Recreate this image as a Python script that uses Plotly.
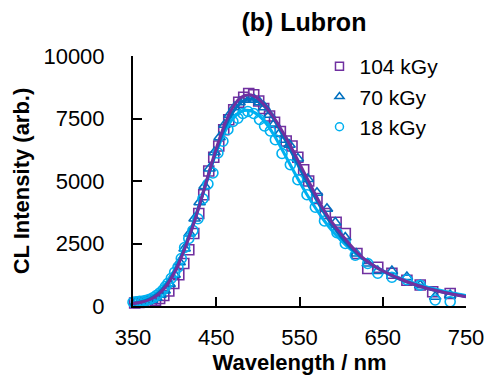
import plotly.graph_objects as go

# ---- data ----
wl_104 = [352, 357, 362, 367, 372, 377, 382, 387, 393, 399, 405, 411, 417, 423, 429, 435,
          441, 447, 453, 459, 465, 471, 477, 483, 489, 495, 501, 507, 514, 520, 527, 534,
          541, 548, 555, 561, 571, 581, 594, 605, 619, 632, 644, 661, 679, 695, 710, 731]
cl_104 = [120, 140, 150, 170, 190, 230, 300, 420, 600, 900, 1250, 1700, 2250, 2900, 3700, 4450,
          5400, 5950, 6400, 7050, 7450, 7850, 8150, 8350, 8500, 8450, 8200, 7900, 7600, 7350, 6980, 6600,
          6400, 5950, 5450, 5000, 4300, 3700, 3350, 2900, 2100, 1500, 1550, 1310, 1030, 840, 570, 500]

wl_70 = [353, 358, 363, 368, 373, 378, 383, 388, 394, 400, 406, 412, 418, 424, 430, 436,
         442, 448, 454, 460, 466, 472, 478, 484, 490, 496, 502, 508, 514, 520, 526, 532,
         538, 548, 560, 571, 583, 593, 605, 618, 632, 644, 661, 679, 695, 713, 731]
cl_70 = [130, 150, 170, 200, 250, 330, 450, 620, 880, 1250, 1750, 2300, 2900, 3500, 4150, 4800,
         5500, 6150, 6750, 7250, 7650, 7950, 8150, 8250, 8250, 8250, 8150, 7950, 7650, 7300, 6900, 6650,
         6450, 5900, 5080, 4530, 3890, 3340, 2740, 2100, 1700, 1400, 1400, 1160, 830, 370, 440]

wl_18 = [350, 354, 358, 362, 366, 370, 374, 378, 382, 386, 389, 392, 396, 400, 404, 408,
         412, 417, 422, 428, 434, 440, 446, 452, 458, 464, 470, 476, 482, 488, 495, 502,
         508, 515, 521, 529, 539, 548, 559, 569, 580, 595, 605, 617, 632, 644, 661, 679,
         695, 713, 731]
cl_18 = [150, 170, 190, 200, 230, 270, 330, 420, 520, 640, 780, 910, 1110, 1350, 1550, 1900,
         2340, 2700, 3020, 3490, 4290, 4880, 5320, 6120, 6590, 7060, 7380, 7510, 7700, 7780, 7700, 7460,
         7200, 7000, 6650, 6100, 5650, 5050, 4450, 3950, 3400, 2930, 2500, 2030, 1700, 1310, 1150, 1050,
         830, 240, 170]

# fitted curves (read at 10 nm steps)
fit_wl = [350, 360, 370, 380, 390, 400, 410, 420, 430, 440, 450, 460, 470, 480, 490, 500,
          510, 520, 530, 540, 550, 560, 570, 580, 590, 600, 610, 620, 630, 640, 650, 660,
          670, 680, 690, 700, 710, 720, 730, 740, 750]
fit_104 = [100, 150, 250, 450, 800, 1350, 2100, 3000, 4050, 5200, 6300, 7250, 7950, 8350, 8450, 8300,
           7950, 7500, 6950, 6350, 5700, 5050, 4400, 3800, 3300, 2880, 2480, 2120, 1820, 1600, 1410, 1250,
           1100, 960, 840, 740, 650, 570, 500, 430, 370]
fit_70 = [110, 170, 290, 500, 860, 1400, 2150, 3050, 4050, 5150, 6200, 7100, 7750, 8150, 8280, 8200,
          7900, 7420, 6820, 6180, 5530, 4880, 4270, 3700, 3200, 2760, 2380, 2070, 1800, 1580, 1390, 1220,
          1080, 950, 840, 740, 650, 570, 500, 440, 380]
fit_18 = [120, 200, 330, 560, 920, 1450, 2200, 3100, 4100, 5150, 6150, 6950, 7500, 7780, 7820, 7650,
          7300, 6800, 6200, 5580, 4970, 4400, 3880, 3400, 2980, 2620, 2300, 2030, 1800, 1600, 1420, 1260,
          1120, 1000, 890, 790, 700, 620, 550, 480, 420]

labels = ["104 kGy", "70 kGy", "18 kGy"]
colors = ["#7030A0", "#0070C0", "#00B0F0"]
symbols = ["square-open", "triangle-up-open", "circle-open"]
x_ticks = [350, 450, 550, 650, 750]
y_ticks = [0, 2500, 5000, 7500, 10000]

FONT = "Liberation Sans"
W, H = 487, 379

fig = go.Figure()

series = [(wl_104, cl_104, fit_104), (wl_70, cl_70, fit_70), (wl_18, cl_18, fit_18)]

# markers
for (wx, wy, _), c, s in zip(series, colors, symbols):
    fig.add_trace(go.Scatter(x=wx, y=wy, mode="markers", showlegend=False, cliponaxis=False,
                             marker=dict(symbol=s, size=10, color=c, line=dict(color=c, width=1.6))))
# fit lines (light blue first, purple on top)
for idx in [2, 1, 0]:
    fig.add_trace(go.Scatter(x=fit_wl, y=series[idx][2], mode="lines", showlegend=False,
                             line=dict(color=colors[idx], width=3, shape="spline", smoothing=0.8)))
# legend entries
for lab, c, s in zip(labels, colors, symbols):
    fig.add_trace(go.Scatter(x=[None], y=[None], mode="markers", name=lab,
                             marker=dict(symbol=s, size=8, color=c, line=dict(color=c, width=1.5))))

fig.update_layout(
    width=W, height=H,
    margin=dict(l=133, r=21, t=56, b=73, autoexpand=False),
    paper_bgcolor="white", plot_bgcolor="white",
    hovermode=False,
    font=dict(family=FONT, size=22, color="black"),
    title=dict(text="<b>(b) Lubron</b>", x=250 / W, xref="paper", xanchor="center",
               y=1 - 22 / H, yanchor="middle", font=dict(family=FONT, size=25, color="black")),
    legend=dict(x=0.56, y=1.04, xanchor="left", yanchor="top", bgcolor="rgba(0,0,0,0)",
                font=dict(family=FONT, size=21, color="black"), itemwidth=30),
    xaxis=dict(range=[350, 750], tickvals=x_ticks, ticktext=[str(v) for v in x_ticks],
               showgrid=False, zeroline=False, showline=True, linecolor="black", linewidth=2,
               ticks="inside", ticklen=9, tickwidth=2, tickcolor="black",
               ticklabelstandoff=11, tickfont=dict(size=22),
               title=dict(text="<b>Wavelength / nm</b>", font=dict(family=FONT, size=22), standoff=5)),
    yaxis=dict(range=[0, 10000], tickvals=y_ticks, ticktext=[str(v) for v in y_ticks],
               showgrid=False, zeroline=False, showline=True, linecolor="black", linewidth=2,
               ticks="inside", ticklen=9, tickwidth=2, tickcolor="black",
               ticklabelstandoff=22, tickfont=dict(size=22),
               title=dict(text="<b>CL Intensity (arb.)</b>", font=dict(family=FONT, size=22), standoff=8)),
)

# remove the browser's default 8 px body margin so the figure fills the window exactly
fig.write_html("out.html", config={"displayModeBar": False, "staticPlot": True},
               post_script="document.body.style.margin='0';document.body.style.overflow='hidden';")
